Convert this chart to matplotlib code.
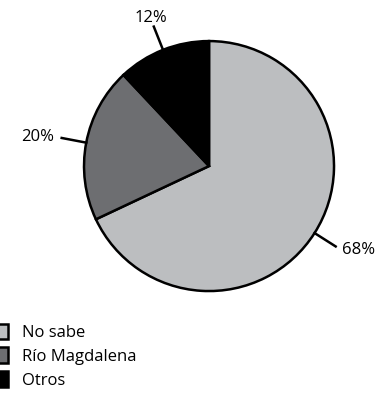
import numpy as np
import matplotlib.pyplot as plt

# response shares
labels = ["No sabe", "Río Magdalena", "Otros"]
values = [68, 20, 12]
colors = ["#bcbec0", "#6d6e71", "#000000"]

plt.rcParams["font.family"] = ["Open Sans", "DejaVu Sans"]

fig = plt.figure(figsize=(3.76, 4.17), dpi=100)
ax = fig.add_axes([0.2234, 0.302, 0.665, 0.5995])

wedges, _ = ax.pie(values, colors=colors, startangle=90, counterclock=False,
                   wedgeprops=dict(edgecolor="black", linewidth=1.8))
ax.set_xlim(-1, 1)
ax.set_ylim(-1, 1)
ax.set_aspect("equal")

# percentage labels with short leader lines
for w, v in zip(wedges, values):
    ang = np.deg2rad((w.theta1 + w.theta2) / 2)
    c, s = np.cos(ang), np.sin(ang)
    ax.plot([c, 1.2 * c], [s, 1.2 * s], color="black", lw=1.8, clip_on=False)
    if c > 0.5:
        ha = "left"
    elif c < -0.5:
        ha = "right"
    else:
        ha = "center"
    r = 1.27 if ha == "center" else 1.26
    ax.text(r * c, r * s, f"{v}%", ha=ha, va="center", fontsize=12)

fig.legend(wedges, labels, loc="upper left", bbox_to_anchor=(-0.032, 0.24),
           frameon=False, fontsize=12, handlelength=0.8, handleheight=1.05,
           handletextpad=0.85, labelspacing=0.38, borderaxespad=0)

fig.savefig("out.png", dpi=100)
